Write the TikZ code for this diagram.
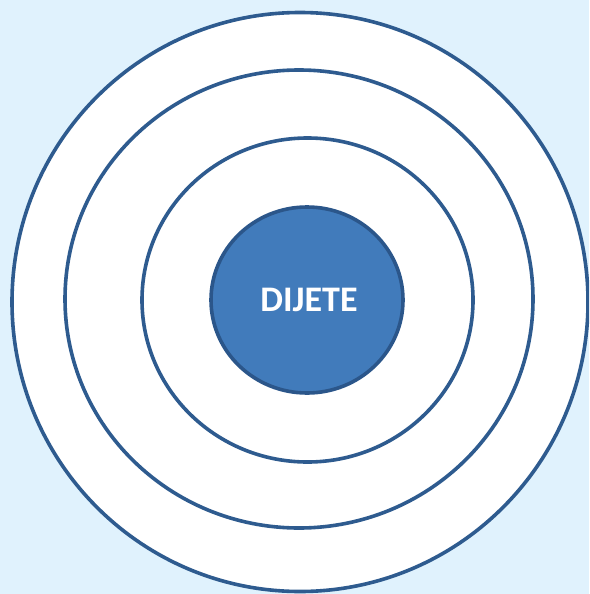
\documentclass[tikz,border=0pt]{standalone}
\usepackage{fontspec}
\setmainfont{Carlito}
\usetikzlibrary{shapes.geometric}

\definecolor{bgblue}{HTML}{E0F2FD}
\definecolor{ringblue}{HTML}{2E5B8F}
\definecolor{childblue}{HTML}{417BBB}
\definecolor{childedge}{HTML}{2B568A}

\begin{document}
\begin{tikzpicture}[x=1pt, y=-1pt,
    ring/.style={ellipse, draw=ringblue, line width=3.6pt, fill=white, inner sep=0pt}]
  % Background
  \path[use as bounding box, fill=bgblue] (0,0) rectangle (589,594);
  \clip (0,0) rectangle (589,594);

  % Rings, from outside in
  \node[ring, minimum width=576pt, minimum height=579pt] (outer) at (300,302) {};
  \node[ring, minimum width=468pt, minimum height=458pt] (middle) at (299,299) {};
  \node[ring, minimum width=331pt, minimum height=324pt] (inner) at (307.5,300) {};

  % Child in the centre
  \node[ring, fill=childblue, draw=childedge, minimum width=192pt, minimum height=186pt,
        text=white, font=\bfseries\fontsize{36}{40}\selectfont] (child) at (307,300) {\hspace{4pt}DIJETE};
\end{tikzpicture}
\end{document}
